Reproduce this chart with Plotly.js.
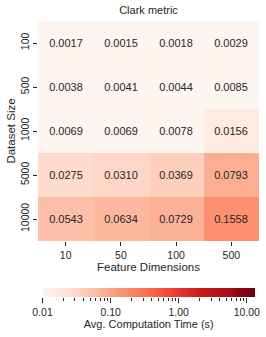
<!DOCTYPE html>
<html><head><meta charset="utf-8">
<script src="https://cdn.plot.ly/plotly-3.0.1.min.js"></script>
<style>html,body{margin:0;padding:0;background:#fff}</style>
</head><body><div id="chart" style="width:266px;height:337px"></div>
<script>
const featureDims = ["10", "50", "100", "500"];
const datasetSizes = ["100", "500", "1000", "5000", "10000"];
const row100 = [0.0017, 0.0015, 0.0018, 0.0029];
const row500 = [0.0038, 0.0041, 0.0044, 0.0085];
const row1000 = [0.0069, 0.0069, 0.0078, 0.0156];
const row5000 = [0.0275, 0.0310, 0.0369, 0.0793];
const row10000 = [0.0543, 0.0634, 0.0729, 0.1558];
const cbTickVals = [0.01, 0.1, 1, 10];
const cbTickText = ["0.01", "0.10", "1.00", "10.00"];
const vmin = 0.01, vmax = 13.2;

const values = [row100, row500, row1000, row5000, row10000];
const zlog = values.map(r => r.map(v => Math.log10(v)));
const txt = values.map(r => r.map(v => v.toFixed(4)));
const reds = [[0,'#fff5f0'],[0.125,'#fee0d2'],[0.25,'#fcbba1'],[0.375,'#fc9272'],[0.5,'#fb6a4a'],[0.625,'#ef3b2c'],[0.75,'#cb181d'],[0.875,'#a50f15'],[1,'#67000d']];
const FONT = 'Liberation Sans, Arial, sans-serif';
const TXT = '#262626';

const H = 337, mt = 21, mb = 10, ph = H - mt - mb;
const fy = px => (H - mb - px) / ph;
const W = 266, ml = 38, mr = 7, pw = W - ml - mr;
const fx = px => (px - ml) / pw;

const data = [{
  type: 'heatmap', x: featureDims, y: datasetSizes, z: zlog,
  text: txt, texttemplate: '%{text}', textfont: {family: FONT, size: 11, color: TXT},
  colorscale: reds, zmin: Math.log10(vmin), zmax: Math.log10(vmax),
  xgap: 0, ygap: 0, hoverinfo: 'skip',
  colorbar: {
    orientation: 'h', thickness: 9, thicknessmode: 'pixels',
    len: fx(255) - fx(42.5), lenmode: 'fraction',
    x: (fx(42.5) + fx(255)) / 2, xanchor: 'center',
    y: fy(288.3), yanchor: 'top', xpad: 0, ypad: 0,
    outlinewidth: 0, ticks: '', showticklabels: false
  }
}, {
  // invisible helper so the colorbar's log tick axis is drawn
  type: 'scatter', mode: 'markers', xaxis: 'x2', yaxis: 'y2',
  x: cbTickVals, y: cbTickVals.map(() => 0.5),
  marker: {opacity: 0, size: 1}, hoverinfo: 'skip', showlegend: false
}];

const layout = {
  width: W, height: H,
  margin: {l: ml, r: mr, t: mt, b: mb},
  paper_bgcolor: '#fff', plot_bgcolor: '#fff',
  font: {family: FONT, size: 11, color: TXT},
  showlegend: false,
  title: {text: 'Clark metric', font: {family: FONT, size: 11, color: TXT}, x: 0.5, xref: 'paper', y: 1 - 10.5/H, yanchor: 'middle'},
  xaxis: {type: 'category', domain: [0, 1], anchor: 'y', ticks: 'outside', ticklen: 4, tickwidth: 1, tickcolor: TXT,
    showline: false, showgrid: false, zeroline: false, tickfont: {size: 10.5},
    title: {text: 'Feature Dimensions', font: {size: 11.5}, standoff: 0}},
  yaxis: {type: 'category', domain: [fy(241), 1], anchor: 'x', autorange: 'reversed', ticks: 'outside', ticklen: 4, tickwidth: 1, tickcolor: TXT,
    showline: false, showgrid: false, zeroline: false, tickangle: -90, tickfont: {size: 10.5},
    title: {text: 'Dataset Size', font: {size: 11.5}, standoff: 0}},
  xaxis2: {type: 'log', domain: [fx(42.5), fx(255)], anchor: 'y2', range: [Math.log10(vmin), Math.log10(vmax)],
    tickvals: cbTickVals, ticktext: cbTickText, ticks: 'outside', ticklen: 5, tickwidth: 1, tickcolor: TXT,
    minor: {ticks: 'outside', ticklen: 3, tickwidth: 1, tickcolor: TXT, showgrid: false, dtick: 'D1'},
    showline: false, showgrid: false, zeroline: false, tickfont: {size: 10.5},
    title: {text: 'Avg. Computation Time (s)', font: {size: 11}, standoff: 3}},
  yaxis2: {domain: [fy(297), fy(288.3)], anchor: 'x2', range: [0, 1], visible: false, showgrid: false, zeroline: false}
};

Plotly.newPlot('chart', data, layout, {staticPlot: true, displayModeBar: false});
</script></body></html>
